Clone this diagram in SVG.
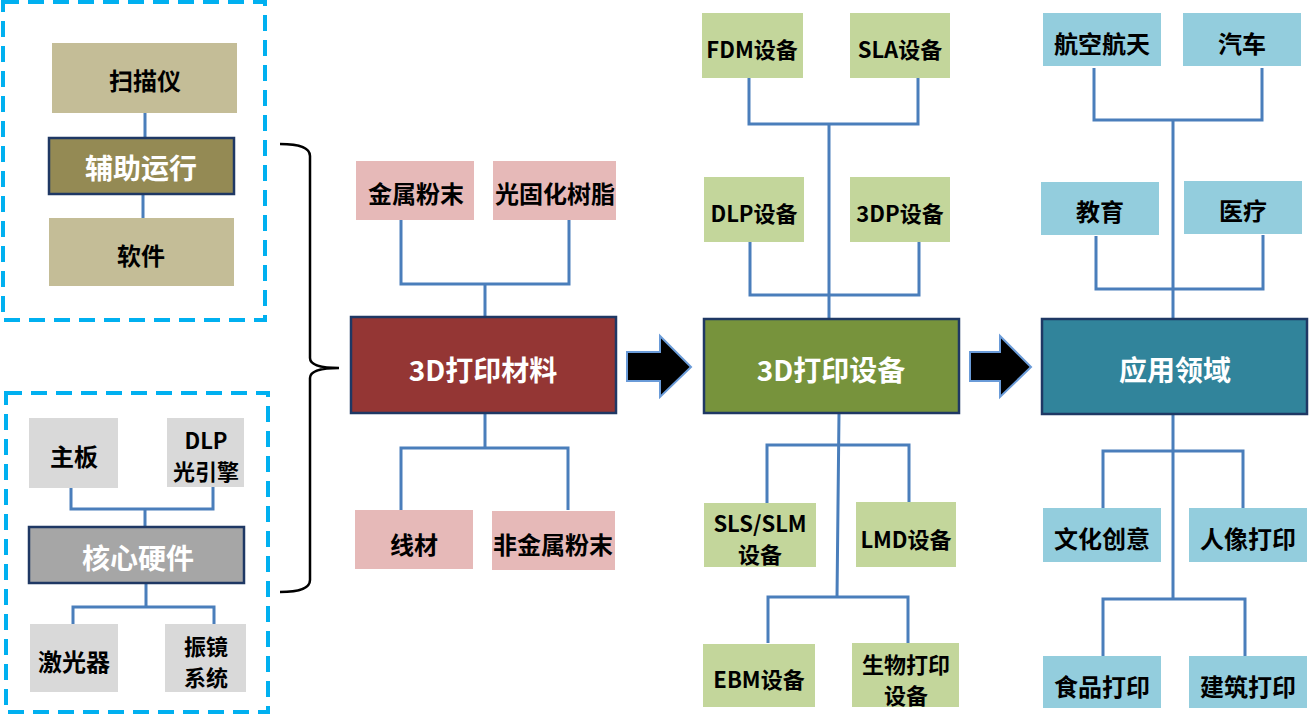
<svg xmlns="http://www.w3.org/2000/svg" width="1313" height="722" viewBox="0 0 1313 722">
<style>
text{font-family:"Noto Sans CJK SC","Liberation Sans",sans-serif;font-weight:bold;text-anchor:middle;dominant-baseline:central;font-size:24px;fill:#000}
.m{font-size:22px}
.w{fill:#fff;font-size:28px}
.tan{fill:#C4BD97}
.gray{fill:#D9D9D9}
.pink{fill:#E6B9B8}
.grn{fill:#C3D69B}
.blu{fill:#93CDDD}
.main{stroke:#1F3864;stroke-width:2.5}
.c{fill:none;stroke:#4A7EBB;stroke-width:3}
.dash{fill:none;stroke:#00B0F0;stroke-width:4;stroke-dasharray:16 9}
.arrow{fill:#000;stroke:#6A9BD8;stroke-width:2}
</style>
<rect width="1313" height="722" fill="#fff"/>
<g id="group-boxes">
<rect class="dash" x="3" y="2" width="262" height="318"/>
<rect class="dash" x="6" y="393" width="262" height="319"/>
</g>
<g id="connectors">
<path class="c" d="M145 113V138M143 194V218"/>
<path class="c" d="M71 488V509H213V487M145 509V527"/>
<path class="c" d="M146 583V607M73 624V607H214V624"/>
<path class="c" d="M401 220V284H569V220M485 284V317"/>
<path class="c" d="M485 413V448M401 510V448H568V510"/>
<path class="c" d="M749 78V124H918V78M829 124V319M750 242V295H919V242"/>
<path class="c" d="M839 413L837 598M767 503V445H909V502M768 643V597H908V643"/>
<path class="c" d="M1094 68V120H1262V68M1173 120V319M1096 236V289H1263V235"/>
<path class="c" d="M1173 414V599M1103 509V451H1243V509M1103 656V599H1245V656"/>
<path d="M280 144Q310 144 310 156V358Q310 368 339 368Q310 368 310 378V580Q310 592 280 592" fill="none" stroke="#000" stroke-width="2.5"/>
<path class="arrow" d="M627 352H660V336L691 367L660 397V381H627Z"/>
<path class="arrow" d="M970 352H1000V336L1031 367L1000 397V381H970Z"/>
</g>
<g id="n-scanner"><rect class="tan" x="52" y="43" width="185" height="70"/><text x="145" y="79">扫描仪</text></g>
<g id="n-aux"><rect class="main" fill="#948A54" x="49" y="138" width="185" height="56"/><text class="w" x="141" y="167">辅助运行</text></g>
<g id="n-software"><rect class="tan" x="49" y="218" width="185" height="68"/><text x="141" y="254">软件</text></g>
<g id="n-board"><rect class="gray" x="29" y="418" width="89" height="70"/><text x="74" y="455">主板</text></g>
<g id="n-dlp-engine"><rect class="gray" x="167" y="418" width="77" height="69"/><text class="m" x="206" y="439">DLP</text><text class="m" x="206" y="470">光引擎</text></g>
<g id="n-core"><rect class="main" fill="#A6A6A6" x="29" y="527" width="215" height="56"/><text class="w" x="138" y="557">核心硬件</text></g>
<g id="n-laser"><rect class="gray" x="30" y="624" width="88" height="68"/><text x="74" y="660">激光器</text></g>
<g id="n-galvo"><rect class="gray" x="165" y="624" width="81" height="68"/><text class="m" x="206" y="645">振镜</text><text class="m" x="206" y="676">系统</text></g>
<g id="n-metal"><rect class="pink" x="356" y="161" width="118" height="59"/><text x="416" y="192">金属粉末</text></g>
<g id="n-resin"><rect class="pink" x="493" y="161" width="123" height="59"/><text x="555" y="192">光固化树脂</text></g>
<g id="n-material"><rect class="main" fill="#943634" x="351" y="317" width="265" height="96"/><text class="w" x="483" y="369">3D打印材料</text></g>
<g id="n-wire"><rect class="pink" x="355" y="510" width="118" height="59"/><text x="414" y="543">线材</text></g>
<g id="n-nonmetal"><rect class="pink" x="492" y="511" width="123" height="59"/><text x="553" y="543">非金属粉末</text></g>
<g id="n-fdm"><rect class="grn" x="702" y="13" width="101" height="65"/><text class="m" x="752" y="48">FDM设备</text></g>
<g id="n-sla"><rect class="grn" x="850" y="13" width="100" height="65"/><text class="m" x="900" y="48">SLA设备</text></g>
<g id="n-dlp"><rect class="grn" x="704" y="177" width="100" height="65"/><text class="m" x="754" y="212">DLP设备</text></g>
<g id="n-3dp"><rect class="grn" x="850" y="177" width="100" height="65"/><text class="m" x="900" y="212">3DP设备</text></g>
<g id="n-device"><rect class="main" fill="#77933C" x="704" y="319" width="255" height="94"/><text class="w" x="831" y="369">3D打印设备</text></g>
<g id="n-sls"><rect class="grn" x="704" y="503" width="112" height="64"/><text class="m" x="760" y="522">SLS/SLM</text><text class="m" x="760" y="553">设备</text></g>
<g id="n-lmd"><rect class="grn" x="856" y="502" width="100" height="65"/><text class="m" x="906" y="538">LMD设备</text></g>
<g id="n-ebm"><rect class="grn" x="703" y="644" width="112" height="63"/><text class="m" x="759" y="678">EBM设备</text></g>
<g id="n-bio"><rect class="grn" x="852" y="643" width="107" height="64"/><text class="m" x="906" y="663">生物打印</text><text class="m" x="906" y="694">设备</text></g>
<g id="n-aero"><rect class="blu" x="1043" y="13" width="118" height="53"/><text x="1102" y="42">航空航天</text></g>
<g id="n-auto"><rect class="blu" x="1183" y="13" width="118" height="53"/><text x="1242" y="42">汽车</text></g>
<g id="n-edu"><rect class="blu" x="1041" y="182" width="118" height="53"/><text x="1100" y="210">教育</text></g>
<g id="n-med"><rect class="blu" x="1184" y="181" width="118" height="53"/><text x="1243" y="209">医疗</text></g>
<g id="n-app"><rect class="main" fill="#31849B" x="1042" y="319" width="265" height="95"/><text class="w" x="1175" y="369">应用领域</text></g>
<g id="n-culture"><rect class="blu" x="1043" y="508" width="118" height="54"/><text x="1102" y="537">文化创意</text></g>
<g id="n-portrait"><rect class="blu" x="1189" y="508" width="118" height="54"/><text x="1248" y="537">人像打印</text></g>
<g id="n-food"><rect class="blu" x="1043" y="656" width="118" height="52"/><text x="1102" y="685">食品打印</text></g>
<g id="n-build"><rect class="blu" x="1189" y="656" width="118" height="52"/><text x="1248" y="685">建筑打印</text></g>
</svg>
